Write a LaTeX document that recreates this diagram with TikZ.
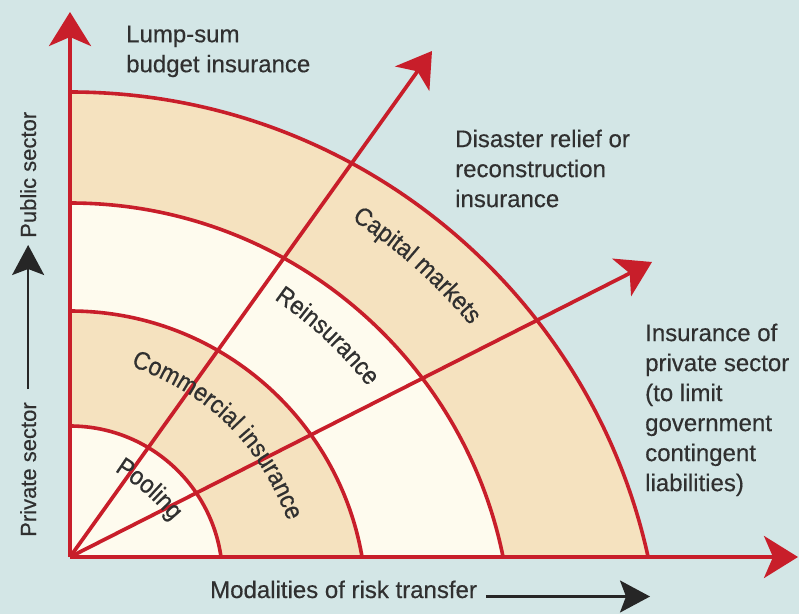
\documentclass[tikz,border=0pt]{standalone}
\usepackage{fontspec}
\setmainfont{Liberation Sans}[FakeBold=0.4]
\newfontfamily\bandfont{Liberation Sans}[FakeStretch=0.9,FakeBold=0.6]
\usetikzlibrary{arrows.meta,decorations.text}

\definecolor{bgblue}{RGB}{211,230,230}
\definecolor{bandtan}{RGB}{245,226,191}
\definecolor{bandcream}{RGB}{254,251,238}
\definecolor{riskred}{RGB}{200,30,42}
\definecolor{inkgray}{RGB}{48,48,48}
\newcommand{\arclabelfont}{\bandfont\fontsize{25.5}{25.5}\selectfont}

\begin{document}
\begin{tikzpicture}[x=1pt,y=1pt,
  ringline/.style={draw=riskred, line width=3.6pt},
  redarrow/.style={draw=riskred, line width=3.7pt,
    -{Stealth[length=34pt,width=42pt,inset=9pt]}},
  sectorarrow/.style={draw=black!85, line width=2.2pt,
    -{Stealth[length=30pt,width=32pt,inset=6pt]}},
  infotext/.style={font=\fontsize{24}{30}\selectfont, text=inkgray,
    align=left, inner sep=0pt, anchor=north west},
  sidetext/.style={font=\fontsize{22}{22}\selectfont, text=inkgray,
    inner sep=0pt, rotate=90, anchor=base west},
  arclabel/.style={decorate, decoration={text along path, text align=center,
    text color=inkgray, text={|\arclabelfont|#1}}}
]
\fill[bgblue] (0,0) rectangle (799,614);
\useasboundingbox (0,0) rectangle (799,614);

% origin, axis ends and ray ends
\coordinate (O) at (70,57);
\coordinate (yTip) at (70,602);
\coordinate (xTip) at (798,57);
\coordinate (r1Tip) at (432,563);
\coordinate (r2Tip) at (652,352);

% centres of the four ring boundaries
\coordinate (c1) at (70,35.5);
\coordinate (c2) at (70,6.7);
\coordinate (c3) at (70,-30.8);
\coordinate (c4) at (70,-69.7);

% coloured bands and their red boundaries, kept inside the first quadrant
\begin{scope}
  \clip (O) rectangle (799,614);
  \fill[bandtan]   (c4) circle[radius=591.7];
  \fill[bandcream] (c3) circle[radius=441.8];
  \fill[bandtan]   (c2) circle[radius=296.3];
  \fill[bandcream] (c1) circle[radius=152.5];
  \draw[ringline] (c4) circle[radius=591.7];
  \draw[ringline] (c3) circle[radius=441.8];
  \draw[ringline] (c2) circle[radius=296.3];
  \draw[ringline] (c1) circle[radius=152.5];
\end{scope}

% rays and axes
\draw[redarrow] (O) -- (r1Tip);
\draw[redarrow] (O) -- (r2Tip);
\draw[redarrow] (O) -- (yTip);
\draw[redarrow] (O) -- (xTip);

% band labels
\path[arclabel=Pooling] (104.4,149.4) to[bend left=10] (179.6,83.6);
\path[arclabel=Commercial insurance] (118.4,252.4) to[bend left=26] (292.5,80.6);
\path[arclabel=Reinsurance] (268.6,318.8) to[bend left=8] (372.4,222.2);
\path[arclabel=Capital markets] (342.5,400.7) to[bend left=8] (477.5,280.3);

% outcome texts
\node[infotext] (lumpsum) at (126,588.5) {Lump-sum\\budget insurance};
\node[infotext] (disaster) at (455,484.5) {Disaster relief or\\reconstruction\\insurance};
\node[infotext] (privins) at (645,290.5) {Insurance of\\private sector\\(to limit\\government\\contingent\\liabilities)};

% axis captions
\node[font=\fontsize{24}{24}\selectfont, text=inkgray, inner sep=0pt,
  anchor=base west] (modal) at (210,16) {Modalities of risk transfer};
\coordinate (modalTip) at (650,17.5);
\draw[sectorarrow] ([shift={(9pt,1.5pt)}]modal.base east) -- (modalTip);

\node[sidetext] (privlbl) at (36,77) {Private sector};
\node[sidetext] (publbl) at (36,376) {Public sector};
\draw[sectorarrow] ([yshift=13pt]privlbl.east) -- ([yshift=-7pt]publbl.west);
\end{tikzpicture}
\end{document}
